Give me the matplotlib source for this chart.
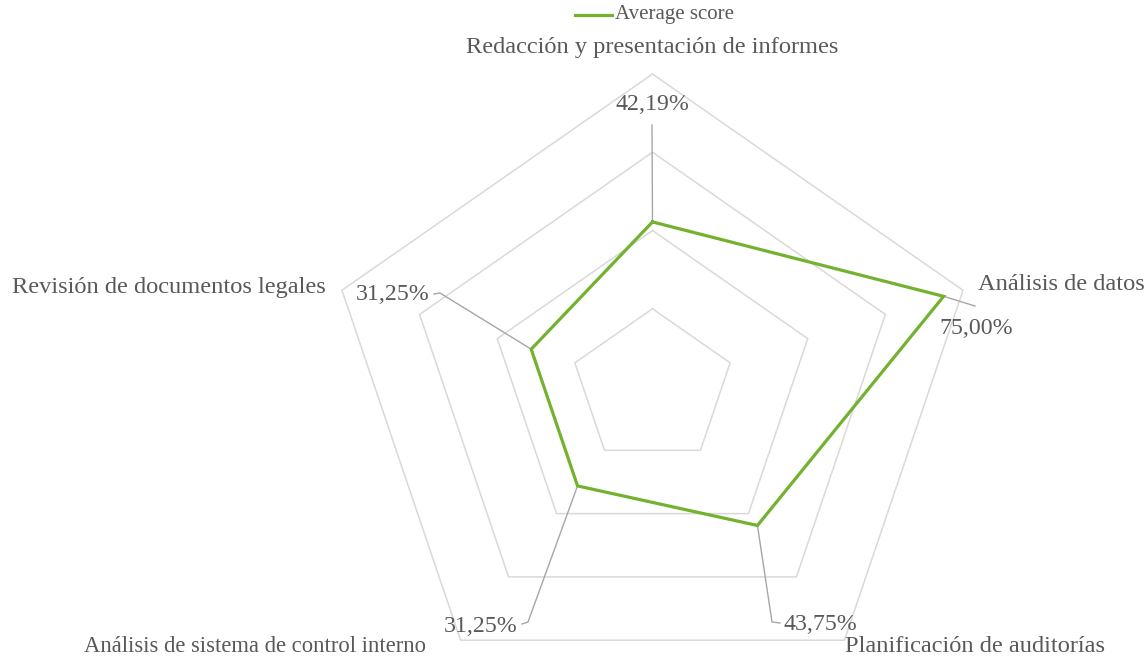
import numpy as np
import matplotlib
matplotlib.use("Agg")
import matplotlib.pyplot as plt

categories = ["Redacción y presentación de informes", "Análisis de datos",
              "Planificación de auditorías", "Análisis de sistema de control interno",
              "Revisión de documentos legales"]
values = [42.19, 75.00, 43.75, 31.25, 31.25]
value_labels = ["42,19%", "75,00%", "43,75%", "31,25%", "31,25%"]
ring_levels = [20, 40, 60, 80]
r_max = 80
series_name = "Average score"

W, H = 1148, 661
fig = plt.figure(figsize=(W / 100, H / 100), dpi=100)
ax = fig.add_axes([0, 0, 1, 1])
ax.axis("off")

# geometry (center and radii in pixels, axis stretch)
cx, cy, Rx, Ry = 652.5, 387.0, 326.5, 313.0
ax.set_xlim(-cx / Rx, (W - cx) / Rx)
ax.set_ylim(-(H - cy) / Ry, cy / Ry)

angles = np.deg2rad(90 - 72 * np.arange(len(categories)))

def polar(r, a):
    return (r / r_max) * np.cos(a), (r / r_max) * np.sin(a)

def px(x, y):
    return ax.transData.inverted().transform((x, H - y))

grid_col = "#d9d9d9"
for lvl in ring_levels:
    a = np.append(angles, angles[0])
    gx, gy = polar(lvl, a)
    ax.plot(gx, gy, color=grid_col, lw=1.1, zorder=1)

vals = np.array(values)
a = np.append(angles, angles[0])
sx, sy = polar(np.append(vals, vals[0]), a)
ax.plot(sx, sy, color="#72b22e", lw=2.3, zorder=3, solid_joinstyle="miter")

txt_col = "#595959"
font = "Liberation Serif"

# category labels (layout positions in pixels)
cat_pos = [(652, 48, "center", 17.6), (978, 285, "left", 17.6),
           (845, 647, "left", 17.6), (84, 647, "left", 16.3),
           (12, 288, "left", 17.6)]
for lab, (x, y, ha, fs) in zip(categories, cat_pos):
    X, Y = px(x, y)
    ax.text(X, Y, lab, ha=ha, va="center", fontsize=fs, color=txt_col,
            family=font)

# data labels with leader lines
lab_pos = [(652, 105, "center"), (939, 328, "left"), (783, 625, "left"),
           (518, 626, "right"), (430, 295, "right")]
leader_pts = [[(652, 125)], [(975, 306)], [(772, 622), (780, 623)],
              [(528, 622), (522, 624)], [(440, 293), (434, 294)]]
for i, (lab, (x, y, ha)) in enumerate(zip(value_labels, lab_pos)):
    X, Y = px(x, y)
    ax.text(X, Y, lab, ha=ha, va="center", fontsize=17.2, color=txt_col,
            family=font, zorder=5)
    p0 = polar(values[i], angles[i])
    pts = [p0] + [tuple(px(*q)) for q in leader_pts[i]]
    xs, ys = zip(*pts)
    ax.plot(xs, ys, color="#a6a6a6", lw=1.0, zorder=2)

# legend
lx0, lx1 = px(575, 15), px(612, 15)
ax.plot([lx0[0], lx1[0]], [lx0[1], lx1[1]], color="#72b22e", lw=2.3)
tx, ty = px(615, 15)
ax.text(tx, ty, series_name, ha="left", va="center", fontsize=15,
        color=txt_col, family=font)

fig.savefig("out.png", dpi=100)
